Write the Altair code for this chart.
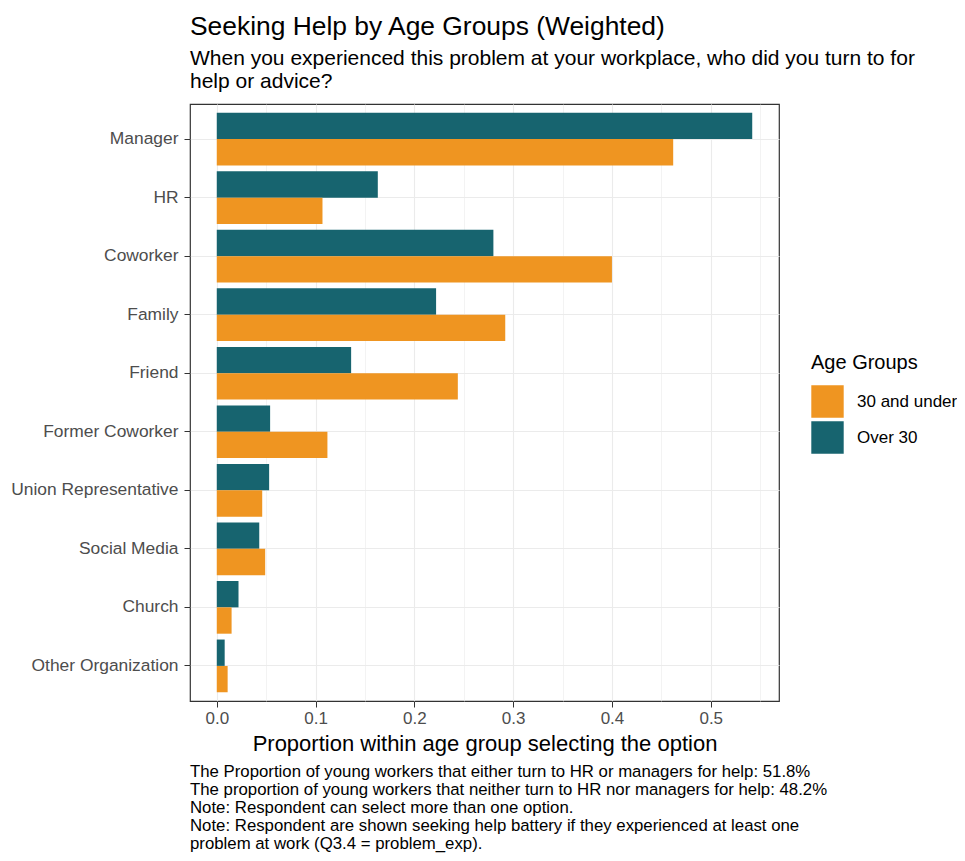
import altair as alt
import pandas as pd

categories = ["Manager", "HR", "Coworker", "Family", "Friend", "Former Coworker",
              "Union Representative", "Social Media", "Church", "Other Organization"]
over30 = [0.542, 0.163, 0.280, 0.222, 0.136, 0.054, 0.053, 0.043, 0.022, 0.008]
under30 = [0.462, 0.107, 0.400, 0.292, 0.244, 0.112, 0.046, 0.049, 0.015, 0.011]
groups = ["30 and under", "Over 30"]
colors = ["#EF9521", "#17646F"]
x_ticks = [0.0, 0.05, 0.1, 0.15, 0.2, 0.25, 0.3, 0.35, 0.4, 0.45, 0.5, 0.55]

caption_lines = [
    "The Proportion of young workers that either turn to HR or managers for help: 51.8%",
    "The proportion of young workers that neither turn to HR nor managers for help: 48.2%",
    "Note: Respondent can select more than one option.",
    "Note: Respondent are shown seeking help battery if they experienced at least one",
    "problem at work (Q3.4 = problem_exp).",
]

rows = []
for c, o, u in zip(categories, over30, under30):
    rows.append({"option": c, "group": "Over 30", "value": o})
    rows.append({"option": c, "group": "30 and under", "value": u})
df = pd.DataFrame(rows)

W, H = 589, 597
vmax = max(over30 + under30)
pad = vmax * 0.05
FONT = "Liberation Sans"

major = "abs(datum.value*10 - round(datum.value*10)) < 0.001"

bars = alt.Chart(df).mark_bar().encode(
    x=alt.X("value:Q",
            scale=alt.Scale(domain=[-pad, vmax + pad], nice=False, zero=False),
            axis=alt.Axis(values=x_ticks,
                          labelExpr=f"{major} ? format(datum.value, '.1f') : ''",
                          title="Proportion within age group selecting the option",
                          titleFontSize=22, titleFontWeight="normal", titleColor="black",
                          titlePadding=7,
                          labelFontSize=17, labelColor="#4D4D4D", labelPadding=3,
                          tickColor="#333333", tickSize=6,
                          tickOpacity={"condition": {"test": major, "value": 1}, "value": 0},
                          gridColor="#EBEBEB",
                          gridWidth={"condition": {"test": major, "value": 1.1}, "value": 0.6},
                          domain=False)),
    y=alt.Y("option:N", sort=categories,
            scale=alt.Scale(paddingInner=0.1, paddingOuter=0.15),
            axis=alt.Axis(title=None, labelFontSize=17.4, labelColor="#4D4D4D", labelPadding=6,
                          tickColor="#333333", tickSize=6, bandPosition=0.5,
                          gridColor="#EBEBEB", gridWidth=1.1, grid=True, domain=False)),
    yOffset=alt.YOffset("group:N", sort=["Over 30", "30 and under"],
                        scale=alt.Scale(paddingInner=0, paddingOuter=0)),
    color=alt.Color("group:N",
                    scale=alt.Scale(domain=groups, range=colors),
                    legend=alt.Legend(title="Age Groups", orient="none",
                                      legendX=621, legendY=249,
                                      titleFontSize=20, titleFontWeight="normal",
                                      titleColor="black", titlePadding=12,
                                      labelFontSize=17, labelColor="black",
                                      labelOffset=13,
                                      symbolType="square", symbolSize=1050,
                                      symbolStrokeWidth=0, symbolOpacity=1,
                                      rowPadding=3)),
)

caption = alt.Chart(pd.DataFrame({"t": ["\n".join(caption_lines)]})).mark_text(
    align="left", baseline="top", lineBreak="\n", fontSize=16.8, font=FONT,
    lineHeight=18, color="black"
).encode(text="t:N", x=alt.value(0), y=alt.value(H + 63))

chart = alt.layer(bars, caption).properties(
    width=W, height=H,
    title=alt.TitleParams(
        text="Seeking Help by Age Groups (Weighted)",
        subtitle=["When you experienced this problem at your workplace, who did you turn to for",
                  "help or advice?"],
        anchor="start", frame="group", fontSize=26.4, fontWeight="normal", color="black",
        subtitleFontSize=21, subtitleColor="black", subtitlePadding=7,
        subtitleLineHeight=23.5, offset=12, font=FONT, subtitleFont=FONT),
    autosize=alt.AutoSizeParams(type="none"),
    padding={"left": 182, "top": 96, "right": 178, "bottom": 152},
).configure(font=FONT).configure_view(stroke="#333333", strokeWidth=1.2)

chart.save("out.html", embed_options={"renderer": "svg", "actions": False})
